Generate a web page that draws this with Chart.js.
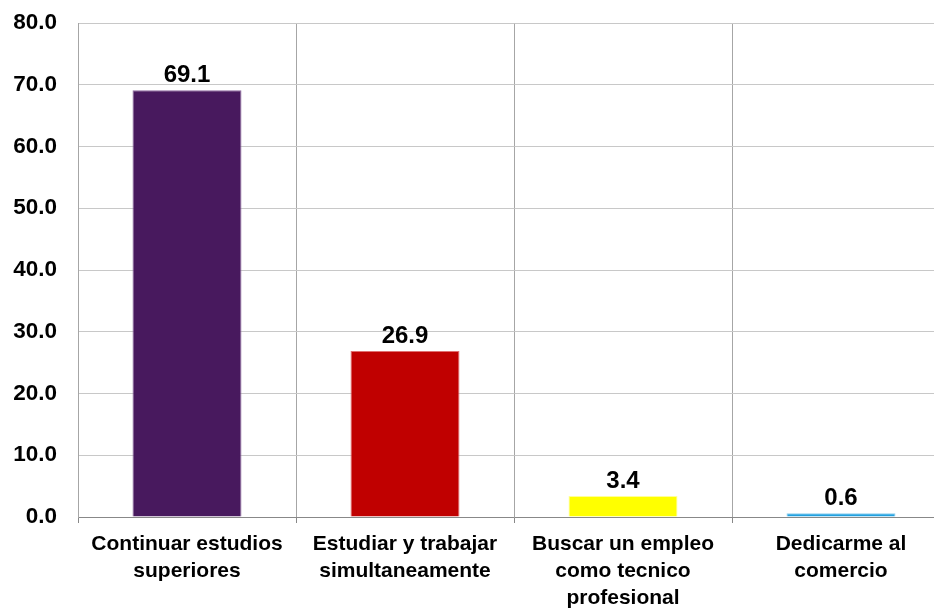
<!DOCTYPE html>
<html lang="es">
<head>
    <meta charset="UTF-8">
    <title>Planes al egresar</title>
    <style>
        body {
            margin: 0;
            background-color: #fff;
            overflow: hidden;
        }
        #chartContainer {
            width: 950px;
            height: 609px;
        }
    </style>
    <script src="https://cdn.jsdelivr.net/npm/chart.js"></script>
</head>
<body>
    <div id="chartContainer">
        <canvas id="planesChart"></canvas>
    </div>

    <script>
        const categories = [
            ['Continuar estudios', 'superiores'],
            ['Estudiar y trabajar', 'simultaneamente'],
            ['Buscar un empleo', 'como tecnico', 'profesional'],
            ['Dedicarme al', 'comercio']
        ];
        const values = [69.1, 26.9, 3.4, 0.6];
        const barColors = ['#48195E', '#C00000', '#FFFF00', '#21A0DF'];
        const yTicks = [0, 10, 20, 30, 40, 50, 60, 70, 80];

        // draws the numbers above each bar
        const valueLabels = {
            id: 'valueLabels',
            afterDatasetsDraw(chart) {
                const ctx = chart.ctx;
                const meta = chart.getDatasetMeta(0);
                ctx.save();
                ctx.font = 'bold 24px "Liberation Sans", Arial, sans-serif';
                ctx.fillStyle = '#000';
                ctx.textAlign = 'center';
                ctx.textBaseline = 'bottom';
                meta.data.forEach(function (bar, i) {
                    ctx.fillText(values[i].toFixed(1), bar.x, bar.y - 3);
                });
                ctx.restore();
            }
        };

        const ctx = document.getElementById('planesChart').getContext('2d');
        new Chart(ctx, {
            type: 'bar',
            data: {
                labels: categories,
                datasets: [{
                    data: values,
                    backgroundColor: barColors,
                    borderColor: ['#8E6BA0', '#E07070', '#FFFF99', '#8FD0F0'],
                    borderWidth: 1,
                    barPercentage: 0.5,
                    categoryPercentage: 1.0
                }]
            },
            options: {
                responsive: true,
                maintainAspectRatio: false,
                animation: false,
                layout: {
                    padding: 0
                },
                scales: {
                    x: {
                        afterFit: function (axis) { axis.height = 92; },
                        grid: {
                            offset: true,
                            color: '#A6A6A6',
                            tickLength: 6,
                            tickColor: '#888'
                        },
                        border: { color: '#888' },
                        ticks: {
                            color: '#000',
                            padding: 8,
                            maxRotation: 0,
                            font: { family: '"Liberation Sans", Arial, sans-serif', size: 21, weight: 'bold', lineHeight: 1.28 }
                        }
                    },
                    y: {
                        min: 0,
                        max: 80,
                        afterFit: function (axis) {
                            axis.width = 78;
                            axis.paddingTop = 23;
                            axis.paddingBottom = 0;
                        },
                        afterBuildTicks: function (axis) {
                            axis.ticks = yTicks.map(v => ({ value: v }));
                        },
                        grid: {
                            color: '#C8C8C8',
                            drawTicks: false
                        },
                        border: { color: '#A6A6A6' },
                        ticks: {
                            color: '#000',
                            padding: 21,
                            callback: v => v.toFixed(1),
                            font: { family: '"Liberation Sans", Arial, sans-serif', size: 22.5, weight: 'bold' }
                        }
                    }
                },
                plugins: {
                    legend: { display: false },
                    tooltip: { enabled: false }
                }
            },
            plugins: [valueLabels]
        });
    </script>
</body>
</html>
